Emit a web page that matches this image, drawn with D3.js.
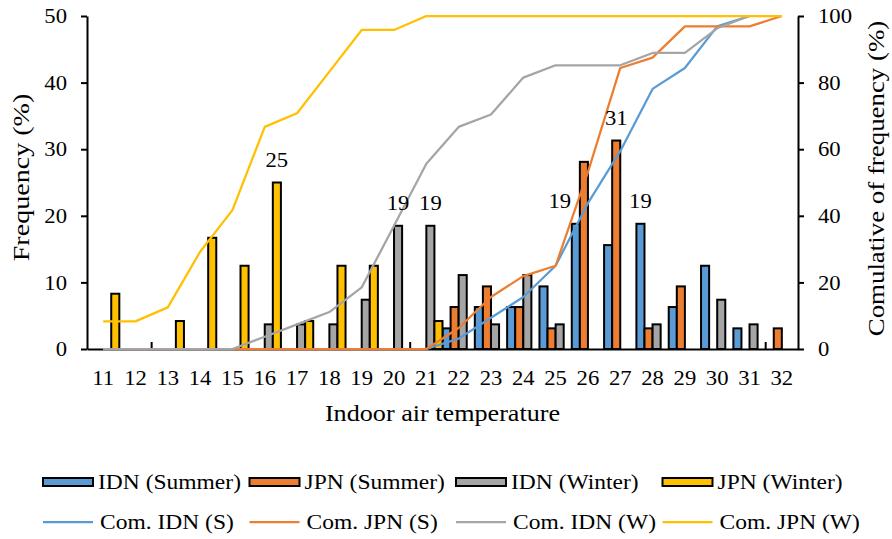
<!DOCTYPE html>
<html>
<head>
<meta charset="utf-8">
<script src="https://cdn.jsdelivr.net/npm/d3@7"></script>
<style>
body { margin: 0; background: #fff; }
svg text { fill: #000; }
</style>
</head>
<body>
<div id="mainDiv"></div>
<script>
'use strict';

// categorias (temperatura do ar interior)
var temps = [11, 12, 13, 14, 15, 16, 17, 18, 19, 20, 21, 22, 23, 24, 25, 26, 27, 28, 29, 30, 31, 32];

// frequência (%) por categoria
var idnSummer = [0, 0, 0, 0, 0, 0, 0, 0, 0, 0, 0, 3.1, 6.3, 6.3, 9.4, 18.8, 15.6, 18.8, 6.3, 12.5, 3.1, 0];
var jpnSummer = [0, 0, 0, 0, 0, 0, 0, 0, 0, 0, 0, 6.3, 9.4, 6.3, 3.1, 28.1, 31.3, 3.1, 9.4, 0, 0, 3.1];
var idnWinter = [0, 0, 0, 0, 0, 3.7, 3.7, 3.7, 7.4, 18.5, 18.5, 11.1, 3.7, 11.1, 3.7, 0, 0, 3.7, 0, 7.4, 3.7, 0];
var jpnWinter = [8.3, 0, 4.2, 16.7, 12.5, 25, 4.2, 12.5, 12.5, 0, 4.2, 0, 0, 0, 0, 0, 0, 0, 0, 0, 0, 0];

// frequência acumulada (%)
var cumIdnS = [0, 0, 0, 0, 0, 0, 0, 0, 0, 0, 0, 3.1, 9.4, 15.6, 25, 43.8, 59.4, 78.1, 84.4, 96.9, 100, null];
var cumJpnS = [0, 0, 0, 0, 0, 0, 0, 0, 0, 0, 0, 6.3, 15.6, 21.9, 25, 53.1, 84.4, 87.5, 96.9, 96.9, 96.9, 100];
var cumIdnW = [0, 0, 0, 0, 0, 3.7, 7.4, 11.1, 18.5, 37, 55.6, 66.7, 70.4, 81.5, 85.2, 85.2, 85.2, 88.9, 88.9, 96.3, 100, null];
var cumJpnW = [8.3, 8.3, 12.5, 29.2, 41.7, 66.7, 70.8, 83.3, 95.8, 95.8, 100, 100, 100, 100, 100, 100, 100, 100, 100, 100, 100, 100];

// rótulos de dados
var labelTemps  = [16, 20, 21, 26, 27, 28];
var labelSeries = ['JPN (Winter)', 'IDN (Winter)', 'IDN (Winter)', 'IDN (Summer)', 'JPN (Summer)', 'IDN (Summer)'];
var labelTexts  = ['25', '19', '19', '19', '31', '19'];

// marquinhas no eixo x
var stubTemps = [12, 20, 31];

var yTicks = [0, 10, 20, 30, 40, 50];
var y2Ticks = [0, 20, 40, 60, 80, 100];

var barKeys = ['IDN (Summer)', 'JPN (Summer)', 'IDN (Winter)', 'JPN (Winter)'];
var lineKeys = ['Com. IDN (S)', 'Com. JPN (S)', 'Com. IDN (W)', 'Com. JPN (W)'];
var colors = ['#5B9BD5', '#ED7D31', '#A5A5A5', '#FFC000'];

var chart = {};
chart.w = 892;
chart.h = 539;
chart.margins = {top: 16, bottom: 190, left: 87, right: 94};
chart.pw = chart.w - chart.margins.left - chart.margins.right;
chart.ph = chart.h - chart.margins.top - chart.margins.bottom;
chart.font = 'Liberation Serif, DejaVu Serif, serif';

// estica o texto na horizontal
chart.stretch = function(sel, k)
{
    sel.each(function() {
        var t = d3.select(this);
        var x = +t.attr('x') || 0, y = +t.attr('y') || 0;
        t.attr('x', 0).attr('y', 0)
         .attr('font-family', chart.font)
         .attr('transform', 'translate(' + x + ',' + y + ') scale(' + k + ',1)');
    });
}

chart.run = function()
{
    var barData = [idnSummer, jpnSummer, idnWinter, jpnWinter];
    var cumData = [cumIdnS, cumJpnS, cumIdnW, cumJpnW];

    var svg = d3.select('#mainDiv').append('svg')
        .attr('width', chart.w)
        .attr('height', chart.h)
        .attr('font-family', chart.font);

    var g = svg.append('g')
        .attr('transform', 'translate(' + chart.margins.left + ',' + chart.margins.top + ')');

    var x0 = d3.scaleBand().domain(temps).range([0, chart.pw]).padding(0);
    var x1 = d3.scaleBand().domain(barKeys).range([0, x0.bandwidth()]).padding(0);
    var y = d3.scaleLinear().domain([0, 50]).range([chart.ph, 0]);
    var y2 = d3.scaleLinear().domain([0, 100]).range([chart.ph, 0]);

    // eixo x
    var xAxisGroup = g.append('g')
        .attr('transform', 'translate(0,' + chart.ph + ')')
        .call(d3.axisBottom(x0).tickSize(0).tickSizeOuter(0).tickPadding(21));
    xAxisGroup.attr('font-family', chart.font);
    xAxisGroup.select('.domain').attr('stroke', '#000').attr('stroke-width', 2);
    xAxisGroup.selectAll('text').attr('font-size', 21);
    chart.stretch(xAxisGroup.selectAll('text'), 1.08);

    g.selectAll('.stub')
        .data(stubTemps)
        .enter()
        .append('line')
        .attr('x1', function(d) { return x0(d) + x0.bandwidth(); })
        .attr('x2', function(d) { return x0(d) + x0.bandwidth(); })
        .attr('y1', chart.ph - 7)
        .attr('y2', chart.ph)
        .attr('stroke', '#000')
        .attr('stroke-width', 2);

    // barras
    barData.forEach(function(vals, i) {
        var rows = temps.map(function(t, j) { return {t: t, v: vals[j]}; })
            .filter(function(d) { return d.v > 0; });
        g.append('g').selectAll('rect')
            .data(rows)
            .enter()
            .append('rect')
            .attr('x', function(d) { return x0(d.t) + x1(barKeys[i]); })
            .attr('y', function(d) { return y(d.v); })
            .attr('width', x1.bandwidth())
            .attr('height', function(d) { return chart.ph - y(d.v); })
            .attr('fill', colors[i])
            .attr('stroke', '#000')
            .attr('stroke-width', 2);
    });

    // linhas acumuladas
    var line = d3.line()
        .defined(function(d) { return d.v != null; })
        .x(function(d) { return x0(d.t) + x0.bandwidth() / 2; })
        .y(function(d) { return y2(d.v); });

    cumData.forEach(function(vals, i) {
        g.append('path')
            .datum(temps.map(function(t, j) { return {t: t, v: vals[j]}; }))
            .attr('fill', 'none')
            .attr('stroke', colors[i])
            .attr('stroke-width', 2.25)
            .attr('stroke-linejoin', 'round')
            .attr('d', line);
    });

    // rótulos
    var nudge = {26: -16};
    var labels = g.selectAll('.lbl')
        .data(labelTemps)
        .enter()
        .append('text')
        .attr('text-anchor', 'middle')
        .attr('font-size', 21)
        .attr('x', function(d, i) { return x0(d) + x1(labelSeries[i]) + x1.bandwidth() / 2 + (nudge[d] || 0); })
        .attr('y', function(d, i) {
            var v = barData[barKeys.indexOf(labelSeries[i])][temps.indexOf(d)];
            return y(v) - 16;
        })
        .text(function(d, i) { return labelTexts[i]; });
    chart.stretch(labels, 1.08);

    // eixos y
    var yAxisGroup = g.append('g')
        .call(d3.axisLeft(y).tickValues(yTicks).tickSize(6).tickSizeOuter(0).tickPadding(14));
    var y2AxisGroup = g.append('g')
        .attr('transform', 'translate(' + chart.pw + ',0)')
        .call(d3.axisRight(y2).tickValues(y2Ticks).tickSize(6).tickSizeOuter(0).tickPadding(14));
    [yAxisGroup, y2AxisGroup].forEach(function(ax) {
        ax.attr('font-family', chart.font);
        ax.select('.domain').attr('stroke', '#000').attr('stroke-width', 2);
        ax.selectAll('.tick line').attr('stroke', '#000').attr('stroke-width', 2);
        ax.selectAll('text').attr('font-size', 21);
        chart.stretch(ax.selectAll('text'), 1.08);
    });

    // títulos dos eixos
    g.append('text')
        .attr('text-anchor', 'middle')
        .attr('font-size', 24)
        .attr('transform', 'translate(' + (chart.pw / 2) + ',' + (chart.ph + 72) + ') scale(1.09,1)')
        .text('Indoor air temperature');

    g.append('text')
        .attr('text-anchor', 'middle')
        .attr('font-size', 24)
        .attr('transform', 'translate(' + (29 - chart.margins.left) + ',' + (chart.ph / 2 - 5) + ') rotate(-90) scale(1.17,1)')
        .text('Frequency (%)');

    g.append('text')
        .attr('text-anchor', 'middle')
        .attr('font-size', 24)
        .attr('transform', 'translate(' + (884 - chart.margins.left) + ',' + (chart.ph / 2 - 4) + ') rotate(-90) scale(1.12,1)')
        .text('Comulative of frequency (%)');

    // legenda
    var legend = svg.append('g').attr('transform', 'translate(43,0)');
    var colW = 206.5;

    barKeys.forEach(function(k, i) {
        legend.append('rect')
            .attr('x', i * colW)
            .attr('y', 478)
            .attr('width', 50)
            .attr('height', 8)
            .attr('fill', colors[i])
            .attr('stroke', '#000')
            .attr('stroke-width', 2);
        var t = legend.append('text')
            .attr('x', i * colW + 55)
            .attr('y', 489)
            .attr('font-size', 21)
            .text(k);
        chart.stretch(t, 1.12);
    });

    lineKeys.forEach(function(k, i) {
        legend.append('line')
            .attr('x1', i * colW)
            .attr('x2', i * colW + 50)
            .attr('y1', 522)
            .attr('y2', 522)
            .attr('stroke', colors[i])
            .attr('stroke-width', 2.25);
        var t = legend.append('text')
            .attr('x', i * colW + 57)
            .attr('y', 529)
            .attr('font-size', 21)
            .text(k);
        chart.stretch(t, 1.12);
    });
}

window.onload = chart.run;
</script>
</body>
</html>
